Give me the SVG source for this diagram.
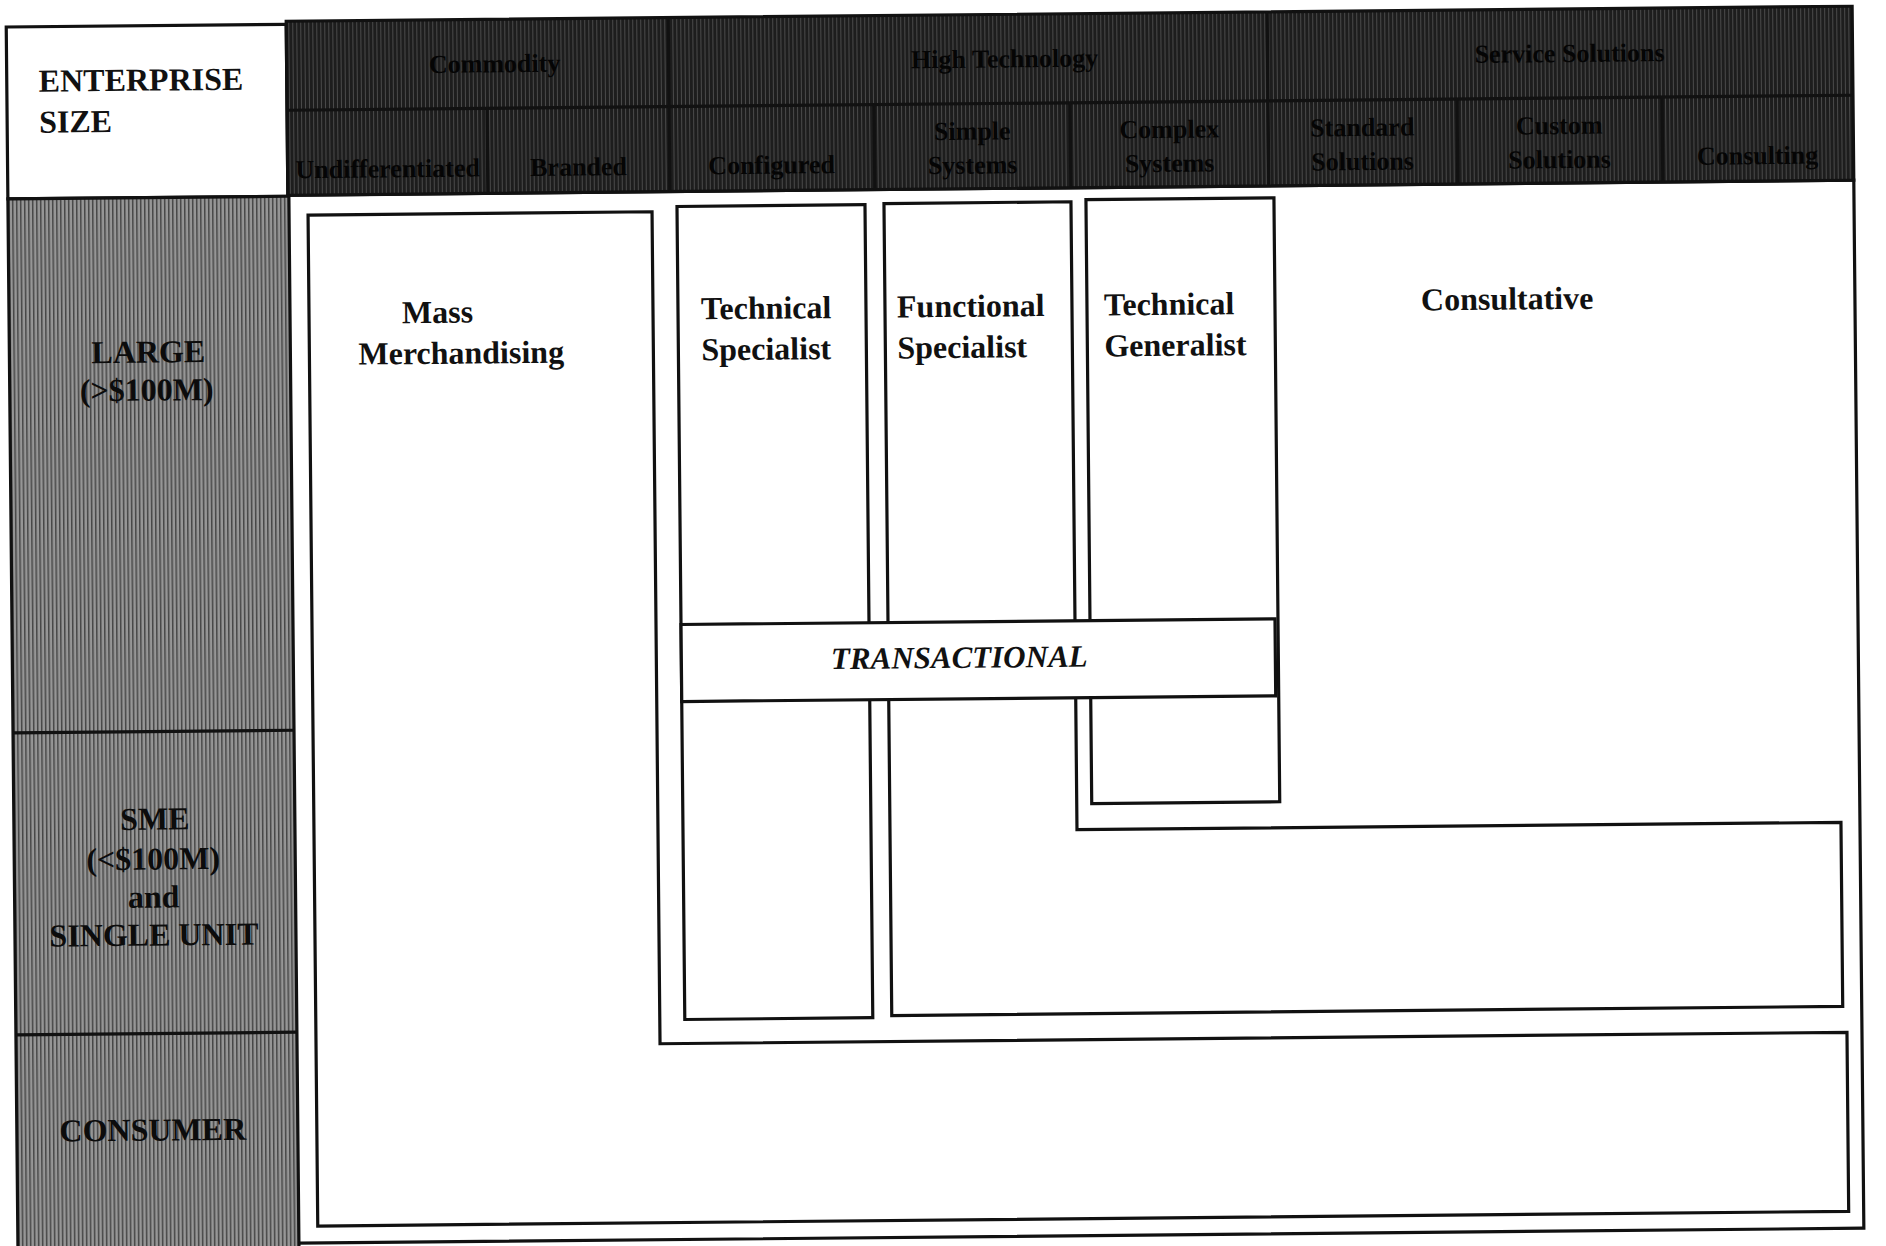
<svg xmlns="http://www.w3.org/2000/svg" width="1886" height="1246" viewBox="0 0 1886 1246">
  <defs>
    <!-- coarse halftone screens for the shaded bands -->
    <pattern id="screen-mid" width="4" height="4" patternUnits="userSpaceOnUse">
      <rect width="4" height="4" fill="#969696"/>
      <rect width="1.5" height="4" fill="#474747"/>
    </pattern>
    <pattern id="screen-dark" width="4" height="4" patternUnits="userSpaceOnUse">
      <rect width="4" height="4" fill="#1d1d1d"/>
      <rect x="2" width="1" height="4" fill="#4a4a4a"/>
    </pattern>
    <style>
      .line { fill: none; stroke: #111; stroke-width: 3.2; stroke-linejoin: miter; }
      .box { fill: #fff; stroke: #111; stroke-width: 3.2; }
      .lbl { font-family: "Liberation Serif", "Times New Roman", serif; font-weight: bold; font-size: 32px; fill: #111; }
      .side { font-family: "Liberation Serif", "Times New Roman", serif; font-weight: bold; font-size: 32px; fill: #0c0c0c; text-anchor: middle; }
      .head { font-family: "Liberation Serif", "Times New Roman", serif; font-weight: bold; font-size: 26px; fill: #050505; text-anchor: middle; }
      .ital { font-family: "Liberation Serif", "Times New Roman", serif; font-weight: bold; font-style: italic; font-size: 31px; fill: #111; text-anchor: middle; }
    </style>
  </defs>

  <rect width="1886" height="1246" fill="#fff"/>

  <g id="sheet" transform="rotate(-0.55 943 623)">
    <!-- outer frame of the matrix -->
    <g id="frame">
      <rect class="line" x="292" y="189" width="1566" height="1048"/>
    </g>

    <!-- corner title cell -->
    <g id="enterprise-size">
      <rect class="box" x="12" y="18" width="280" height="172"/>
      <text class="lbl" x="44" y="83">ENTERPRISE</text>
      <text class="lbl" x="44" y="124">SIZE</text>
    </g>

    <!-- column heading band -->
    <g id="header">
      <rect x="292" y="15" width="1566" height="174" fill="url(#screen-dark)" stroke="#111" stroke-width="3.2"/>
      <text class="head" x="500" y="68">Commodity</text>
      <text class="head" x="1010" y="68">High Technology</text>
      <text class="head" x="1575" y="68">Service Solutions</text>
      <text class="head" x="392" y="172">Undifferentiated</text>
      <text class="head" x="583" y="172">Branded</text>
      <text class="head" x="776" y="172">Configured</text>
      <text class="head" x="977" y="140">Simple</text>
      <text class="head" x="977" y="174">Systems</text>
      <text class="head" x="1174" y="140">Complex</text>
      <text class="head" x="1174" y="174">Systems</text>
      <text class="head" x="1367" y="140">Standard</text>
      <text class="head" x="1367" y="174">Solutions</text>
      <text class="head" x="1564" y="140">Custom</text>
      <text class="head" x="1564" y="174">Solutions</text>
      <text class="head" x="1762" y="172">Consulting</text>
    </g>

    <!-- row labels -->
    <g id="size-column">
      <rect x="12" y="190" width="281" height="1070" fill="url(#screen-mid)" stroke="#111" stroke-width="3.2"/>
    </g>
    <g id="row-large">
      <text class="side" x="151" y="355">LARGE</text>
      <text class="side" x="149" y="393">(&gt;$100M)</text>
    </g>
    <g id="row-sme">
      <text class="side" x="153" y="822">SME</text>
      <text class="side" x="151" y="862">(&lt;$100M)</text>
      <text class="side" x="151" y="900">and</text>
      <text class="side" x="151" y="938">SINGLE UNIT</text>
    </g>
    <g id="row-consumer">
      <text class="side" x="148" y="1133">CONSUMER</text>
    </g>

    <!-- grid lines of the heading band and the size column -->
    <g id="grid-lines" class="line">
      <path d="M292 104 H1858"/>
      <path d="M674 15 V104 M1273 15 V104"/>
      <path d="M492 104 V189 M674 104 V189 M879 104 V189 M1075 104 V189 M1273 104 V189 M1462 104 V189 M1667 104 V189"/>
      <path d="M12 724 H293 M12 1026 H293"/>
    </g>

    <!-- sales force types -->
    <g id="mass-merchandising">
      <path class="box" d="M312 209 H656 V1041 H1843 V1220 H312 Z"/>
      <text class="lbl" x="405" y="318">Mass</text>
      <text class="lbl" x="361" y="359">Merchandising</text>
    </g>

    <g id="technical-specialist">
      <rect class="box" x="681" y="204" width="188" height="813"/>
      <text class="lbl" x="704" y="317">Technical</text>
      <text class="lbl" x="704" y="358">Specialist</text>
    </g>

    <g id="functional-specialist">
      <path class="box" d="M888 203 H1075 V831 H1839 V1015 H888 Z"/>
      <text class="lbl" x="900" y="317">Functional</text>
      <text class="lbl" x="900" y="358">Specialist</text>
    </g>

    <g id="technical-generalist">
      <rect class="box" x="1090" y="201" width="188" height="604"/>
      <text class="lbl" x="1107" y="317">Technical</text>
      <text class="lbl" x="1107" y="358">Generalist</text>
    </g>

    <g id="consultative">
      <text class="lbl" x="1424" y="315">Consultative</text>
    </g>

    <g id="transactional">
      <rect class="box" x="681" y="622" width="594" height="77"/>
      <text class="ital" x="959" y="668">TRANSACTIONAL</text>
    </g>
  </g>
</svg>
